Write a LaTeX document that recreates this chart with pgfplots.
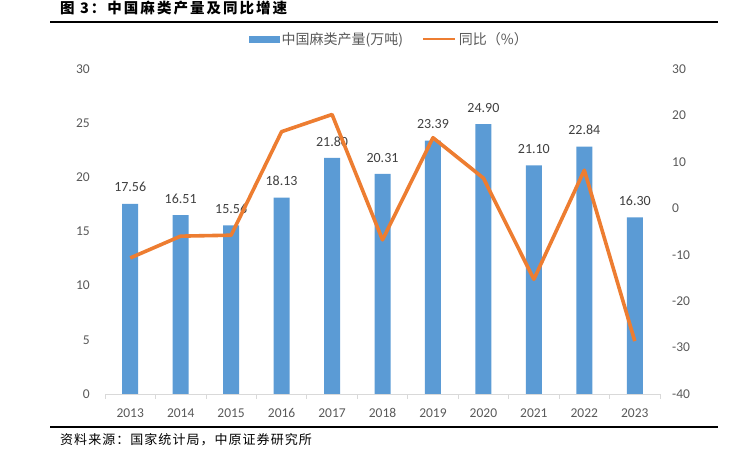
\documentclass[border=0pt]{standalone}
\usepackage{pgfplots}
\pgfplotsset{compat=1.18}
\usepackage{fontspec}
\setmainfont{Carlito}
\newfontfamily\cjk{Noto Sans CJK SC}
\newfontfamily\cjktitle[LetterSpace=14]{Noto Sans CJK SC}
\newfontfamily\cjksource[LetterSpace=8]{Noto Sans CJK SC}
\definecolor{barblue}{HTML}{5B9BD5}
\definecolor{lineorange}{HTML}{ED7D31}
\definecolor{ticktext}{HTML}{595959}
\definecolor{labeltext}{HTML}{404040}
\definecolor{axisgray}{HTML}{D9D9D9}
\pgfplotsset{
    /pgf/number format/assume math mode=true,
    linelegend/.style={legend image code/.code={\draw[##1, line width=2.8bp] (0bp,0bp) -- (32bp,0bp);}},
}

\begin{document}
\begin{tikzpicture}[x=1bp,y=1bp]
\path (0,0) rectangle (734,475);

% title, rules, source
\node[anchor=west, inner sep=0pt] at (60,467)
  {\cjktitle\bfseries\fontsize{14.5bp}{16bp}\selectfont 图 3：中国麻类产量及同比增速};
\draw[line width=2bp] (50,453.3) -- (718,453.3);
\draw[line width=2bp] (50,48.3) -- (718,48.3);
\node[anchor=west, inner sep=0pt] at (60,35)
  {\cjksource\fontsize{13bp}{15bp}\selectfont 资料来源：国家统计局，中原证券研究所};

% bars: production (10k t)
\begin{axis}[
    at={(105bp,81bp)}, anchor=south west,
    width=555bp, height=325bp, scale only axis,
    xmin=-0.5, xmax=10.5,
    ymin=0, ymax=30,
    axis x line*=bottom, axis y line*=left,
    x axis line style={draw=axisgray, line width=0.8bp, -},
    y axis line style={draw=none},
    xtick={0,...,10},
    xticklabels={2013,2014,2015,2016,2017,2018,2019,2020,2021,2022,2023},
    minor xtick={-0.5,0.5,...,10.5},
    major tick length=0pt, minor tick length=5bp,
    tick align=outside,
    minor x tick style={draw=axisgray, line width=0.8bp},
    ytick={0,5,...,30},
    xticklabel style={font=\fontsize{13.5bp}{15bp}\selectfont, text=ticktext, inner sep=0pt, yshift=-14.5bp},
    yticklabel style={font=\fontsize{13.5bp}{15bp}\selectfont, text=ticktext, inner sep=0pt, xshift=-15bp},
    ybar, bar width=16bp,
    nodes near coords,
    nodes near coords style={/pgf/number format/fixed, /pgf/number format/fixed zerofill, /pgf/number format/precision=2},
    every node near coord/.append style={font=\fontsize{14bp}{15bp}\selectfont, text=labeltext, inner sep=0pt, yshift=11.5bp},
]
\addplot[fill=barblue, draw=none] coordinates {
    (0,17.56) (1,16.51) (2,15.56) (3,18.13) (4,21.80) (5,20.31)
    (6,23.39) (7,24.90) (8,21.10) (9,22.84) (10,16.30)
};
\end{axis}

% line: year-on-year (%)
\begin{axis}[
    at={(105bp,81bp)}, anchor=south west,
    width=555bp, height=325bp, scale only axis,
    xmin=-0.5, xmax=10.5,
    ymin=-40, ymax=30,
    axis x line=none, axis y line*=right,
    y axis line style={draw=none},
    major tick length=0pt,
    ytick={-40,-30,...,30},
    yticklabel style={font=\fontsize{13.5bp}{15bp}\selectfont, text=ticktext, inner sep=0pt, xshift=12bp},
    legend columns=2,
    legend style={at={(0.5126,1.0923)}, anchor=center, draw=none, fill=none,
        font=\fontsize{14bp}{15bp}\selectfont, text=ticktext,
        /tikz/every even column/.append style={column sep=17bp}},
]
\addlegendimage{legend image code/.code={\fill[barblue] (0bp,-3.2bp) rectangle (30bp,3.2bp);}}
\addlegendentry{\cjk 中国麻类产量(万吨)}
\addplot[lineorange, line width=3.6bp, line join=round, no marks, linelegend]
  coordinates {
    (0,-10.7) (1,-6.0) (2,-5.8) (3,16.5) (4,20.2) (5,-6.8)
    (6,15.2) (7,6.5) (8,-15.3) (9,8.2) (10,-28.6)
};
\addlegendentry{\cjk 同比（\%）}
\end{axis}
\end{tikzpicture}
\end{document}
